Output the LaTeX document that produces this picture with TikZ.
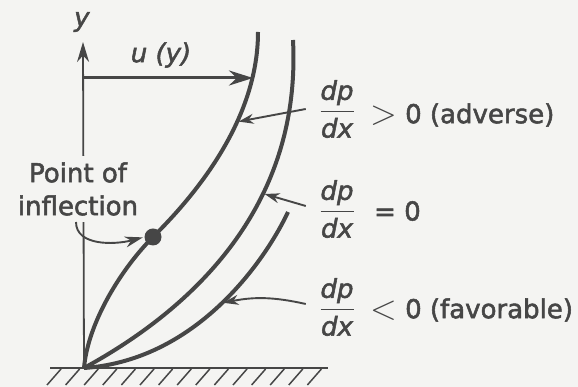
\documentclass[tikz,border=0pt]{standalone}
\usepackage{fix-cm}
\usepackage{amsmath}
\usepackage{fontspec}
\setmainfont[FakeBold=2]{DejaVu Sans}
\usetikzlibrary{arrows.meta}
\definecolor{ink}{RGB}{70,70,70}
\definecolor{paper}{RGB}{244,244,242}
\newcommand{\dpdx}{$\genfrac{}{}{1.8pt}{0}{\textit{dp}}{\textit{dx}}$}
\newcommand{\cmp}[1]{\raisebox{-1pt}{\scalebox{1.35}{$#1$}}}

\begin{document}
\begin{tikzpicture}[x=1pt, y=1pt, color=ink, font=\fontsize{26}{33}\selectfont,
    profile/.style={line width=4pt},
    callout/.style={line width=1.9pt, -{Stealth[length=15pt,width=10pt]}, shorten >=1.5pt},
    rel/.style={anchor=west, inner sep=0pt}]
            \fill[paper] (0,0) rectangle (578,387);
            \useasboundingbox (0,0) rectangle (578,387);

            % Define nodes
            \coordinate (O) at (84,19);
            \coordinate (ytip) at (83,345);
            \coordinate (ub) at (83,309);
            \coordinate (ue) at (253,309);
            \coordinate (P) at (153,150);
            \coordinate (pi) at (76,165);
            \node (ylab) at (82,365) {\textit{y}};
            \node (ulab) at (161,332) {\textit{u (y)}};
            \node (fa) at (337,278) {\dpdx};
            \node (fz) at (337,178) {\dpdx};
            \node (ff) at (337,80) {\dpdx};
            \node[rel] (ra) at (370,272) {\cmp{>} 0 (adverse)};
            \node[rel] (rz) at (374,176) {= 0};
            \node[rel] (rf) at (370,77) {\cmp{<} 0 (favorable)};

            % Draw wall
            \draw[line width=1.8pt] (50,19) -- (328,19);
            \foreach \i in {0,...,14}
                \draw[line width=1.5pt] ({47+\i*18.6},2) -- ++(14,16);

            % Draw axes
            \draw[line width=1.8pt, -{Stealth[length=20pt,width=12pt]}] (O) -- (ytip);
            \draw[line width=3pt, -{Stealth[length=24pt,width=15pt]}] (ub) -- (ue);
            \node[fill=paper, align=center, inner sep=6pt] (pt) at (78,198) {Point of\\inflection};

            % Draw profiles
            \draw[profile] (O) .. controls (88,65) and (122,119) .. (P)
                .. controls (185,182) and (258,260) .. (258,355) coordinate[pos=0.66] (c1);
            \draw[profile] (O) .. controls (205,85) and (301,190) .. (293,347) coordinate[pos=0.63] (c2);
            \draw[profile] (O) .. controls (200,27) and (268,132) .. (288,175) coordinate[pos=0.5] (c3);
            \node[circle, fill=ink, minimum size=17pt, inner sep=0pt] (D) at (P) {};

            % Draw edges
            \draw[callout, -{Stealth[length=18pt,width=11pt]}] (pi) .. controls +(0,-24) and +(-30,-8) .. (D.west);
            \draw[callout] ([xshift=-10pt]fa.west) -- (c1);
            \draw[callout] ([shift={(-10pt,3pt)}]fz.west) -- (c2);
            \draw[callout] ([shift={(-10pt,3pt)}]ff.west) to[bend right=12] (c3);

        \end{tikzpicture}
\end{document}
